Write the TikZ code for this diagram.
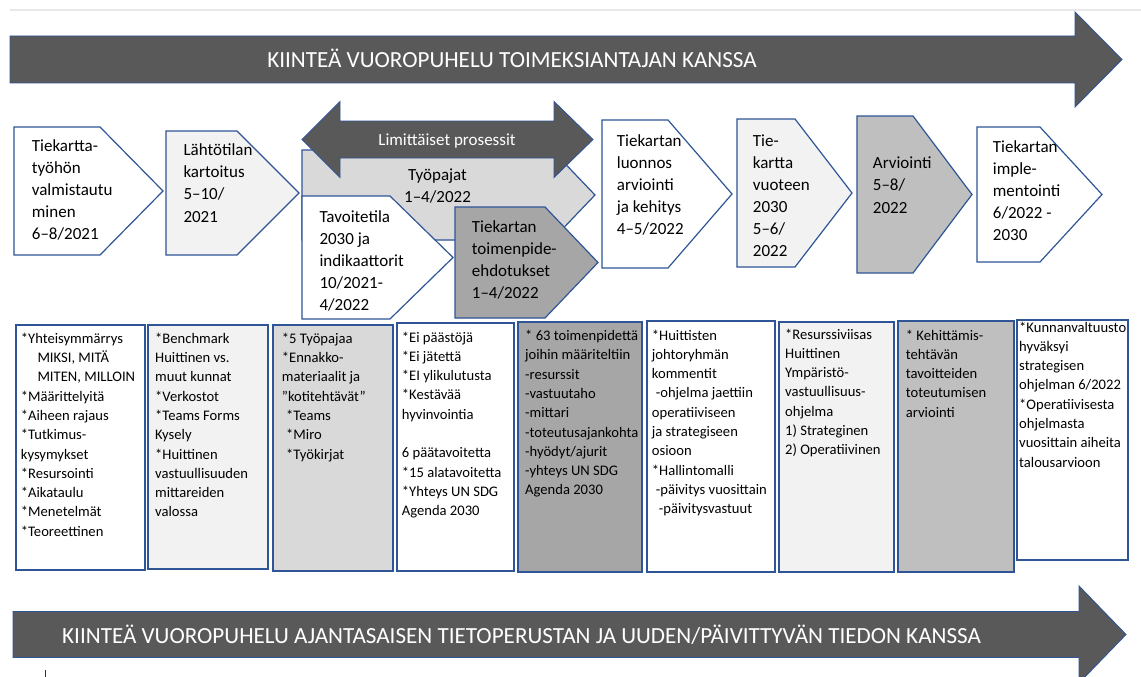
\documentclass[tikz,border=0pt]{standalone}
\usepackage{fontspec}
\setmainfont{Carlito}
\definecolor{edge}{HTML}{2F5597}
\definecolor{darkfill}{HTML}{595959}
\definecolor{palefill}{HTML}{F2F2F2}
\definecolor{lightfill}{HTML}{D9D9D9}
\definecolor{midfill}{HTML}{BFBFBF}
\definecolor{deepfill}{HTML}{A6A6A6}
\tikzset{
  chev/.style={draw=edge, line width=1.2pt, line join=miter},
  bigarrow/.style={fill=darkfill, draw=edge, line width=0.9pt, line join=miter},
  infobox/.style={draw=edge, line width=2pt},
  chevtxt/.style={anchor=base west, inner sep=0pt, font=\fontsize{17}{22.2}\selectfont},
  boxtxt/.style={anchor=base west, inner sep=0pt, font=\fontsize{14.6}{19.3}\selectfont},
  bandtxt/.style={text=white, inner sep=0pt, font=\fontsize{23.1}{27}\selectfont},
}
% pentagon step: left, top, body right, tip x, bottom, fill
\newcommand\chevshape[6]{%
  \filldraw[chev, fill=#6] (#1,#2) -- (#3,#2) -- (#4,{(#2+#5)/2}) -- (#3,#5) -- (#1,#5) -- cycle;}
\newcommand\steptext[4]{%
  \node[chevtxt] (#1) at (#2,#3) {\parbox[t]{140pt}{\raggedright #4}};}
\newcommand\listtext[4]{%
  \node[boxtxt] (#1) at (#2,#3) {\parbox[t]{160pt}{\raggedright #4}};}
% line break that leaves a following asterisk alone
\newcommand\nl{\\{}}
\begin{document}
\begin{tikzpicture}[x=1pt,y=-1pt]
\useasboundingbox (0,0) rectangle (1141,677);
\fill[white] (0,0) rectangle (1141,677);
\draw[gray!18, line width=1.5pt] (10,10) -- (1141,10);

% upper band arrow
\filldraw[bigarrow] (10,36) -- (1075,36) -- (1075,12) -- (1122,59.5) -- (1075,107) -- (1075,83) -- (10,83) -- cycle;
\node[bandtxt, anchor=base] (topband) at (512,68) {KIINTEÄ VUOROPUHELU TOIMEKSIANTAJAN KANSSA};

% process steps
\chevshape{14}{127}{100}{163}{255}{white}
\steptext{s1}{31.7}{151}{Tiekartta-\nl työhön\nl valmistautu\nl minen\nl 6–8/2021}
\chevshape{166}{131}{237}{299}{255}{palefill}
\steptext{s2}{183.3}{155.5}{Lähtötilan\nl kartoitus\nl 5–10/\nl 2021}
\chevshape{302}{150}{552}{595}{240}{lightfill}
\node[inner sep=0pt, anchor=base, font=\fontsize{17}{22.2}\selectfont] (s3) at (437.5,180.3) {\parbox[t]{100pt}{\centering Työpajat\nl 1–4/2022}};
% double arrow over the overlapping steps
\filldraw[bigarrow] (302,139.5) -- (340,101.5) -- (340,121) -- (554,121) -- (554,101.5) -- (593,139.5) -- (554,177.5) -- (554,158) -- (340,158) -- (340,177.5) -- cycle;
\node[text=white, inner sep=0pt, anchor=base, font=\fontsize{17}{20}\selectfont] (overlap) at (447,145.5) {Limittäiset prosessit};
\chevshape{302}{196}{390}{453}{319}{white}
\steptext{s4}{319.3}{222}{Tavoitetila\nl 2030 ja\nl indikaattorit\nl 10/2021-\nl 4/2022}
\chevshape{455}{207}{545}{598}{318}{deepfill}
\steptext{s5}{471.7}{232}{Tiekartan\nl toimenpide-\nl ehdotukset\nl 1–4/2022}
\chevshape{602}{120}{668}{732}{268}{white}
\steptext{s6}{616.7}{146}{Tiekartan\nl luonnos\nl arviointi\nl ja kehitys\nl 4–5/2022}
\chevshape{737}{119}{795}{852}{267}{palefill}
\steptext{s7}{752.7}{146}{Tie-\nl kartta\nl vuoteen\nl 2030\nl 5–6/\nl 2022}
\chevshape{857}{116}{913}{972}{273}{midfill}
\steptext{s8}{872.7}{168.6}{Arviointi\nl 5–8/\nl 2022}
\chevshape{977}{127}{1040}{1102}{262}{white}
\steptext{s9}{992.7}{152}{Tiekartan\nl imple-\nl mentointi\nl 6/2022 -\nl 2030}

% detail boxes
\draw[infobox, fill=white] (16,325) rectangle (145,570);
\draw[infobox, fill=palefill] (148,325) rectangle (268,569);
\draw[infobox, fill=lightfill] (273,325) rectangle (393,571);
\draw[infobox, fill=white] (397,323) rectangle (514,571);
\draw[infobox, fill=deepfill] (518,322) rectangle (642,572);
\draw[infobox, fill=white] (647,321) rectangle (775,572);
\draw[infobox, fill=palefill] (779,322) rectangle (894,572);
\draw[infobox, fill=midfill] (898,321) rectangle (1014,572);
\draw[infobox, fill=white] (1017,320) rectangle (1128,560);

\listtext{b1}{20.7}{343.2}{*Yhteisymmärrys\nl \hspace*{16.6pt}MIKSI, MITÄ\nl \hspace*{16.6pt}MITEN, MILLOIN\nl *Määrittelyitä\nl *Aiheen rajaus\nl *Tutkimus-\nl kysymykset\nl *Resursointi\nl *Aikataulu\nl *Menetelmät\nl *Teoreettinen}
\listtext{b2}{155}{343.2}{*Benchmark\nl Huittinen vs.\nl muut kunnat\nl *Verkostot\nl *Teams Forms\nl Kysely\nl *Huittinen\nl vastuullisuuden\nl mittareiden\nl valossa}
\listtext{b3}{281.7}{343.2}{*5 Työpajaa\nl *Ennakko-\nl materiaalit ja\nl ”kotitehtävät”\nl \hspace*{4.3pt}*Teams\nl \hspace*{4.3pt}*Miro\nl \hspace*{4.3pt}*Työkirjat}
\listtext{b4}{401.7}{342}{*Ei päästöjä\nl *Ei jätettä\nl *EI ylikulutusta\nl *Kestävää\nl hyvinvointia\nl \mbox{}\nl 6 päätavoitetta\nl *15 alatavoitetta\nl *Yhteys UN SDG\nl Agenda 2030}
\listtext{b5}{525}{340.5}{* 63 toimenpidettä\nl joihin määriteltiin\nl -resurssit\nl -vastuutaho\nl -mittari\nl -toteutusajankohta\nl -hyödyt/ajurit\nl -yhteys UN SDG\nl Agenda 2030}
\listtext{b6}{651.7}{340}{*Huittisten\nl johtoryhmän\nl kommentit\nl \hspace*{4pt}-ohjelma jaettiin\nl operatiiviseen\nl ja strategiseen\nl osioon\nl *Hallintomalli\nl \hspace*{4pt}-päivitys vuosittain\nl \hspace*{7pt}-päivitysvastuut}
\listtext{b7}{785}{339}{*Resurssiviisas\nl Huittinen\nl Ympäristö-\nl vastuullisuus-\nl ohjelma\nl 1) Strateginen\nl 2) Operatiivinen}
\listtext{b8}{905.7}{340}{* Kehittämis-\nl tehtävän\nl tavoitteiden\nl toteutumisen\nl arviointi}
\begin{scope}
  \clip (1017,320) rectangle (1128,560);
  \listtext{b9}{1019}{332}{*Kunnanvaltuusto\nl hyväksyi\nl strategisen\nl ohjelman 6/2022\nl *Operatiivisesta\nl ohjelmasta\nl vuosittain aiheita\nl talousarvioon}
\end{scope}

% lower band arrow
\filldraw[bigarrow] (13,611.5) -- (1079,611.5) -- (1079,586) -- (1126,634.5) -- (1079,683) -- (1079,657.5) -- (13,657.5) -- cycle;
\node[bandtxt, anchor=base west] (lowband) at (62,643) {KIINTEÄ VUOROPUHELU AJANTASAISEN TIETOPERUSTAN JA UUDEN/PÄIVITTYVÄN TIEDON KANSSA};
\draw[black!80, line width=0.8pt] (45,670) -- (45,677);
\end{tikzpicture}
\end{document}
